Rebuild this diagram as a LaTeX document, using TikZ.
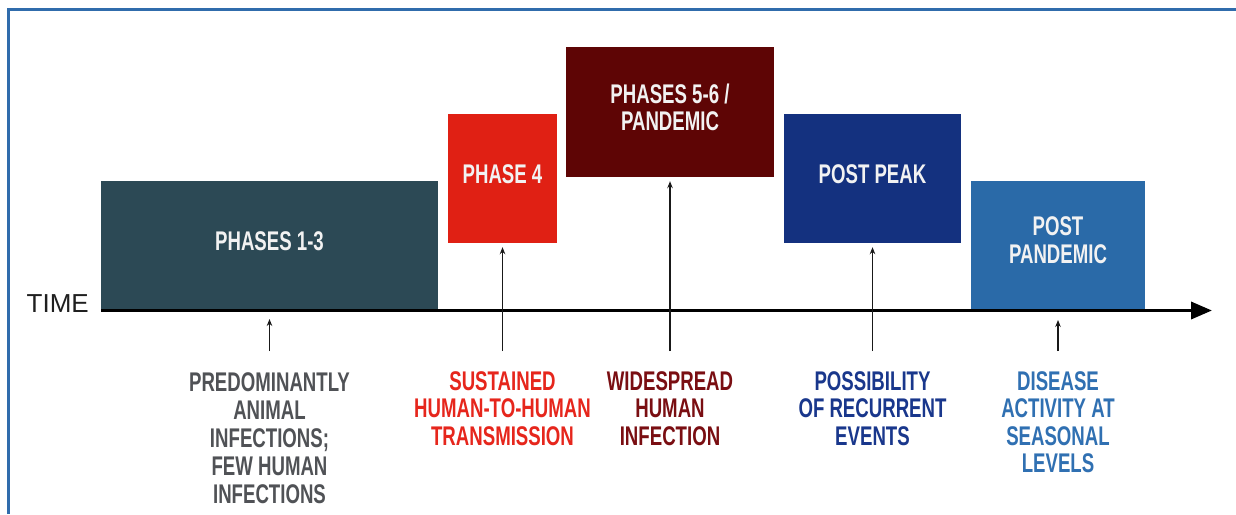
\documentclass[tikz,border=0pt]{standalone}
\usepackage{fontspec}
\setmainfont{Liberation Sans}
\newfontfamily\condb{Liberation Sans}[FakeStretch=0.69]
\usetikzlibrary{arrows.meta}
\definecolor{frameblue}{RGB}{48,108,172}
\definecolor{cA}{RGB}{44,73,85}
\definecolor{cB}{RGB}{224,32,20}
\definecolor{cC}{RGB}{94,5,5}
\definecolor{cD}{RGB}{20,49,127}
\definecolor{cE}{RGB}{42,106,168}
\definecolor{tA}{RGB}{80,82,86}
\definecolor{tB}{RGB}{230,38,28}
\definecolor{tC}{RGB}{122,14,18}
\definecolor{tD}{RGB}{25,55,140}
\definecolor{tE}{RGB}{48,112,178}
\definecolor{boxtext}{RGB}{242,242,242}
\begin{document}
\begin{tikzpicture}[x=1pt,y=-1pt,
  phasebox/.style={rectangle, inner sep=0pt, draw=none},
  boxtxt/.style={inner sep=0pt, align=center, text=boxtext,
    font=\condb\bfseries\fontsize{27}{27.5}\selectfont},
  desc/.style={inner sep=0pt, anchor=north, align=center,
    font=\condb\bfseries\fontsize{27}{27.5}\selectfont},
  pointer/.style={draw=black!90, line width=1.3pt, -{Stealth[length=7pt,width=5.5pt]}},
  timeaxis/.style={draw=black, line width=3.5pt, -{Triangle[length=21pt,width=17pt]}},
  frameline/.style={draw=frameblue, line width=3pt}]
\useasboundingbox (0,0) rectangle (1236,514);
\fill[white] (0,0) rectangle (1236,514);
% frame
\draw[frameline] (8.5,514) -- (8.5,9.5) -- (1236,9.5);
% boxes
\node[phasebox, fill=cA, minimum width=337pt, minimum height=128pt] (b1) at (269.5,245) {};
\node[phasebox, fill=cB, minimum width=109pt, minimum height=129pt] (b2) at (502.5,178.5) {};
\node[phasebox, fill=cC, minimum width=208pt, minimum height=130pt] (b3) at (670,112) {};
\node[phasebox, fill=cD, minimum width=177pt, minimum height=129pt] (b4) at (872.5,178.5) {};
\node[phasebox, fill=cE, minimum width=174pt, minimum height=128pt] (b5) at (1058,245) {};
% box texts
\node[boxtxt] (t1) at ([yshift=4pt]b1.center) {PHASES 1-3};
\node[boxtxt] (t2) at ([yshift=4pt]b2.center) {PHASE 4};
\node[boxtxt] (t3) at ([yshift=4.5pt]b3.center) {PHASES 5-6 /\\PANDEMIC};
\node[boxtxt] (t4) at ([yshift=4pt]b4.center) {POST PEAK};
\node[boxtxt] (t5) at ([yshift=5pt]b5.center) {POST\\PANDEMIC};
% time axis
\coordinate (axs) at (101,310.5);
\coordinate (axe) at (1212,310.5);
\draw[timeaxis] (axs) -- (axe);
\node[inner sep=0pt, anchor=south east, text=black!88,
  font=\fontsize{26}{28}\selectfont] (time) at (89,313) {TIME};
% descriptions
\node[desc, text=tA, font=\condb\bfseries\fontsize{27}{28}\selectfont] (d1) at (b1.center |- 0,372) {PREDOMINANTLY\\ANIMAL\\INFECTIONS;\\FEW HUMAN\\INFECTIONS};
\node[desc, text=tB] (d2) at (b2.center |- 0,371) {SUSTAINED\\HUMAN-TO-HUMAN\\TRANSMISSION};
\node[desc, text=tC] (d3) at (b3.center |- 0,371) {WIDESPREAD\\HUMAN\\INFECTION};
\node[desc, text=tD] (d4) at (b4.center |- 0,371) {POSSIBILITY\\OF RECURRENT\\EVENTS};
\node[desc, text=tE] (d5) at (b5.center |- 0,371) {DISEASE\\ACTIVITY AT\\SEASONAL\\LEVELS};
% pointers
\coordinate (p1) at (b1.center |- 0,312);
\coordinate (p5) at (b5.center |- 0,312);
\draw[pointer, shorten <=21pt, shorten >=7pt] (d1.north) -- (p1);
\draw[pointer, shorten <=20pt, shorten >=4pt] (d2.north) -- (b2.south);
\draw[pointer, shorten <=20pt, shorten >=4pt] (d3.north) -- (b3.south);
\draw[pointer, shorten <=20pt, shorten >=4pt] (d4.north) -- (b4.south);
\draw[pointer, shorten <=20pt, shorten >=8pt] (d5.north) -- (p5);
\end{tikzpicture}
\end{document}
